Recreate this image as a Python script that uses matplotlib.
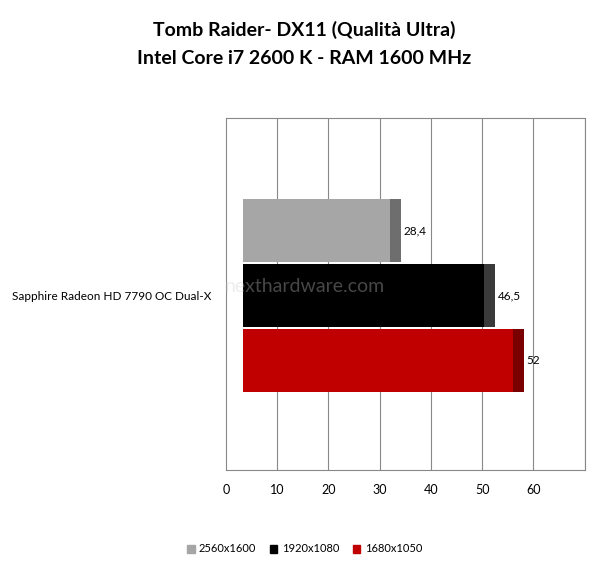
import matplotlib
matplotlib.use("Agg")
import matplotlib.pyplot as plt
from matplotlib.patches import Patch

category = "Sapphire Radeon HD 7790 OC Dual-X"
series = ["2560x1600", "1920x1080", "1680x1050"]
values = [28.4, 46.5, 52]
labels = ["28,4", "46,5", "52"]
front = ["#a6a6a6", "#000000", "#c00000"]
side = ["#6e6e6e", "#3a3a3a", "#7a0000"]
ticks = [0, 10, 20, 30, 40, 50, 60]

plt.rcParams['font.family'] = ['Lato', 'DejaVu Sans']
fig = plt.figure(figsize=(6.09, 5.72), dpi=100)
ax = fig.add_axes([0.371, 0.178, 0.589, 0.616])
ax.set_xlim(0, 70)
ax.set_ylim(-1.68, 3.74)

depth = 3.3
scale = 1.02
for i, (v, f, s, l) in enumerate(zip(values, front, side, labels)):
    y = 2 - i
    w = v * scale
    ax.barh(y, w, left=depth, height=0.97, color=f, zorder=3)
    ax.barh(y, 2.1, left=depth + w - 0.3, height=0.97, color=s, zorder=3)
    ax.text(depth + w + 2.3, y, l, va="center", ha="left", fontsize=8.5, zorder=4)

for t in ticks[1:] + [70]:
    ax.axvline(t, color="#888888", lw=0.8, zorder=1)
for sp in ax.spines.values():
    sp.set_color("#888888")
    sp.set_linewidth(0.8)
ax.set_xticks(ticks)
ax.set_xticklabels([str(t) for t in ticks], fontsize=9)
ax.tick_params(axis="x", length=0, pad=10)
ax.set_yticks([])

fig.text(12/609, 1-296/572, category, fontsize=8.5, va="center", ha="left")
fig.text(0.5, 1-30/572, "Tomb Raider- DX11 (Qualità Ultra)", ha="center", va="center",
         fontsize=14, fontweight="bold")
fig.text(0.5, 1-58/572, "Intel Core i7 2600 K - RAM 1600 MHz", ha="center", va="center",
         fontsize=14, fontweight="bold")
fig.text(0.5, 1-287/572, "nexthardware.com", ha="center", va="center", fontsize=14,
         color="#cccccc", alpha=0.35, zorder=10)

handles = [Patch(color=c) for c in front]
fig.legend(handles, series, loc="center", bbox_to_anchor=(0.5, 1-549/572), ncol=3,
           frameon=False, fontsize=8, handlelength=0.7, handleheight=0.7,
           columnspacing=1.2, handletextpad=0.4)
fig.savefig("out.png", dpi=100)
